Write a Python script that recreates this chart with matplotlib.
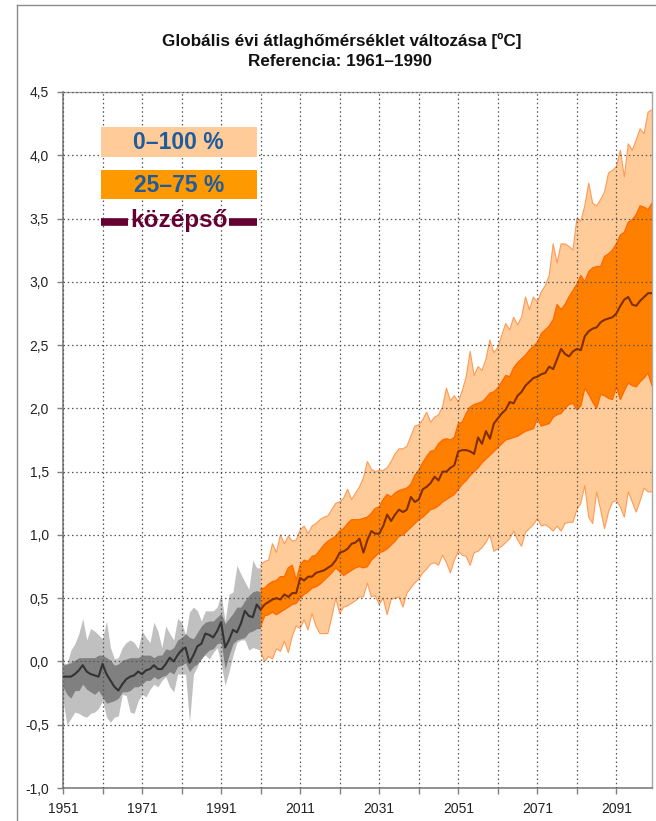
import matplotlib
matplotlib.use("Agg")
import matplotlib.pyplot as plt
from matplotlib.patches import Rectangle
from matplotlib.lines import Line2D
import numpy as np

plt.rcParams['font.family'] = ['Liberation Sans', 'DejaVu Sans']

# ---------------- data ----------------
hist_years = list(range(1951, 2002))
g_max = [-0.01, -0.02, 0.09, 0.14, 0.22, 0.34, 0.17, 0.26, 0.24, 0.21,
         0.18, 0.32, 0.11, 0.02, 0.03, 0.11, 0.15, 0.17, 0.15, 0.10,
         0.24, 0.19, 0.15, 0.31, 0.24, 0.11, 0.28, 0.22, 0.17, 0.34,
         0.31, 0.21, 0.39, 0.43, 0.40, 0.32, 0.40, 0.40, 0.40, 0.43,
         0.53, 0.32, 0.53, 0.55, 0.76, 0.69, 0.63, 0.57, 0.80, 0.74,
         0.74]
g_p75 = [-0.03, -0.02, -0.01, 0.01, 0.03, 0.03, 0.03, 0.03, 0.03, 0.05,
         0.05, 0.03, 0.01, -0.03, -0.02, 0.01, 0.02, 0.03, 0.03, 0.03,
         0.05, 0.05, 0.05, 0.03, 0.05, 0.05, 0.10, 0.09, 0.11, 0.17,
         0.19, 0.22, 0.19, 0.18, 0.23, 0.28, 0.31, 0.32, 0.32, 0.35,
         0.38, 0.30, 0.34, 0.38, 0.43, 0.43, 0.48, 0.52, 0.55, 0.56,
         0.55]
g_med = [-0.12, -0.12, -0.12, -0.10, -0.07, -0.03, -0.08, -0.10, -0.11, -0.12,
         -0.02, -0.10, -0.15, -0.20, -0.23, -0.18, -0.14, -0.12, -0.11, -0.08,
         -0.10, -0.07, -0.06, -0.03, -0.06, -0.06, -0.02, 0.03, 0.00, 0.05,
         0.09, 0.11, -0.01, 0.05, 0.12, 0.14, 0.22, 0.21, 0.19, 0.24,
         0.31, 0.11, 0.17, 0.25, 0.23, 0.30, 0.40, 0.36, 0.35, 0.45,
         0.41]
g_p25 = [-0.20, -0.26, -0.29, -0.23, -0.23, -0.18, -0.22, -0.24, -0.26, -0.23,
         -0.28, -0.33, -0.32, -0.31, -0.29, -0.24, -0.24, -0.23, -0.20, -0.20,
         -0.18, -0.15, -0.15, -0.12, -0.14, -0.12, -0.11, -0.08, -0.10, -0.04,
         -0.03, -0.01, -0.08, -0.04, -0.02, 0.02, 0.06, 0.09, 0.10, 0.14,
         0.15, -0.06, 0.05, 0.14, 0.17, 0.18, 0.19, 0.23, 0.24, 0.26,
         0.26]
g_min = [-0.31, -0.50, -0.45, -0.40, -0.41, -0.43, -0.44, -0.41, -0.40, -0.37,
         -0.31, -0.44, -0.48, -0.44, -0.43, -0.26, -0.27, -0.40, -0.41, -0.31,
         -0.26, -0.28, -0.22, -0.18, -0.20, -0.15, -0.12, -0.20, -0.24, -0.10,
         -0.10, -0.10, -0.48, -0.10, -0.04, 0.05, 0.05, 0.02, 0.07, 0.11,
         -0.02, -0.19, -0.08, 0.05, 0.15, 0.17, 0.17, 0.09, 0.11, 0.10,
         0.09]

proj_years = list(range(2001, 2101))
o_max = [0.76, 0.79, 0.80, 0.93, 0.86, 1.00, 0.93, 0.99, 0.95, 0.96,
         1.04, 1.07, 1.01, 1.07, 1.09, 1.12, 1.14, 1.15, 1.20, 1.25,
         1.26, 1.29, 1.36, 1.28, 1.33, 1.38, 1.45, 1.58, 1.52, 1.50,
         1.51, 1.51, 1.53, 1.58, 1.64, 1.68, 1.68, 1.70, 1.78, 1.86,
         1.87, 1.91, 1.97, 1.89, 1.93, 1.95, 2.01, 2.16, 2.06, 2.10,
         2.05, 2.14, 2.25, 2.45, 2.26, 2.33, 2.30, 2.39, 2.54, 2.44,
         2.48, 2.58, 2.67, 2.62, 2.72, 2.66, 2.72, 2.88, 2.78, 2.88,
         2.84, 2.92, 2.97, 3.05, 3.30, 3.15, 3.30, 3.30, 3.28, 3.25,
         3.50, 3.48, 3.60, 3.78, 3.62, 3.60, 3.65, 3.71, 3.86, 3.88,
         3.91, 4.04, 3.83, 4.09, 4.04, 4.12, 4.21, 4.17, 4.34, 4.36]
o_p75 = [0.57, 0.58, 0.61, 0.63, 0.64, 0.67, 0.67, 0.74, 0.76, 0.64,
         0.76, 0.80, 0.79, 0.83, 0.84, 0.88, 0.92, 0.95, 0.97, 0.99,
         1.03, 1.05, 1.09, 1.12, 1.12, 1.12, 1.13, 1.14, 1.17, 1.21,
         1.22, 1.28, 1.32, 1.30, 1.33, 1.35, 1.36, 1.37, 1.40, 1.47,
         1.51, 1.57, 1.62, 1.66, 1.67, 1.72, 1.75, 1.76, 1.75, 1.77,
         1.88, 1.89, 1.96, 2.01, 2.03, 2.04, 2.05, 2.08, 2.12, 2.13,
         2.16, 2.21, 2.26, 2.25, 2.32, 2.36, 2.39, 2.42, 2.46, 2.49,
         2.52, 2.59, 2.62, 2.65, 2.70, 2.82, 2.78, 2.82, 2.88, 2.93,
         2.98, 3.05, 3.00, 3.08, 3.11, 3.12, 3.12, 3.20, 3.22, 3.25,
         3.30, 3.37, 3.39, 3.47, 3.49, 3.53, 3.60, 3.59, 3.57, 3.62]
o_med = [0.41, 0.45, 0.47, 0.49, 0.50, 0.49, 0.53, 0.51, 0.54, 0.54,
         0.66, 0.64, 0.67, 0.67, 0.70, 0.71, 0.72, 0.74, 0.76, 0.80,
         0.86, 0.87, 0.89, 0.93, 0.94, 0.97, 0.86, 0.96, 1.03, 1.01,
         1.01, 1.07, 1.16, 1.11, 1.16, 1.20, 1.18, 1.20, 1.30, 1.26,
         1.28, 1.36, 1.38, 1.41, 1.46, 1.43, 1.50, 1.50, 1.53, 1.55,
         1.66, 1.67, 1.67, 1.66, 1.64, 1.77, 1.72, 1.82, 1.76, 1.88,
         1.92, 1.96, 1.99, 2.05, 2.04, 2.10, 2.13, 2.18, 2.21, 2.24,
         2.25, 2.27, 2.28, 2.33, 2.31, 2.39, 2.47, 2.43, 2.41, 2.45,
         2.47, 2.46, 2.57, 2.61, 2.63, 2.64, 2.68, 2.70, 2.71, 2.72,
         2.75, 2.81, 2.86, 2.88, 2.82, 2.81, 2.85, 2.88, 2.91, 2.91]
o_p25 = [0.28, 0.36, 0.37, 0.39, 0.37, 0.39, 0.41, 0.43, 0.45, 0.46,
         0.50, 0.53, 0.55, 0.58, 0.59, 0.61, 0.64, 0.67, 0.70, 0.74,
         0.71, 0.68, 0.70, 0.72, 0.74, 0.75, 0.74, 0.75, 0.80, 0.83,
         0.86, 0.87, 0.89, 0.92, 0.95, 0.99, 1.00, 1.03, 1.06, 1.09,
         1.12, 1.14, 1.17, 1.20, 1.21, 1.23, 1.26, 1.28, 1.30, 1.32,
         1.36, 1.40, 1.43, 1.47, 1.50, 1.53, 1.57, 1.60, 1.63, 1.66,
         1.69, 1.72, 1.75, 1.76, 1.77, 1.78, 1.80, 1.82, 1.83, 1.84,
         1.92, 1.86, 1.87, 1.88, 1.93, 1.95, 1.96, 2.00, 2.03, 2.04,
         1.99, 2.02, 2.16, 2.11, 2.05, 2.00, 2.11, 2.10, 2.08, 2.07,
         2.17, 2.07, 2.14, 2.20, 2.18, 2.17, 2.21, 2.24, 2.28, 2.18]
o_min = [0.08, 0.00, 0.04, 0.02, 0.10, 0.08, 0.16, 0.07, 0.20, 0.28,
         0.26, 0.33, 0.25, 0.38, 0.28, 0.22, 0.22, 0.22, 0.35, 0.50,
         0.38, 0.43, 0.44, 0.46, 0.48, 0.51, 0.51, 0.62, 0.51, 0.52,
         0.45, 0.50, 0.37, 0.49, 0.50, 0.51, 0.43, 0.54, 0.58, 0.62,
         0.65, 0.70, 0.73, 0.77, 0.78, 0.76, 0.84, 0.78, 0.70, 0.80,
         0.87, 0.84, 0.83, 0.76, 0.86, 0.87, 0.90, 0.94, 1.00, 0.87,
         0.89, 0.91, 0.94, 0.97, 1.03, 0.96, 0.91, 1.02, 1.05, 1.08,
         1.13, 1.07, 1.08, 1.06, 1.03, 1.07, 1.03, 1.09, 1.10, 1.10,
         1.20, 1.25, 1.39, 1.14, 1.09, 1.34, 1.20, 1.05, 1.18, 1.26,
         1.27, 1.22, 1.14, 1.34, 1.26, 1.18, 1.27, 1.37, 1.34, 1.34]

y_ticks = [-1.0, -0.5, 0.0, 0.5, 1.0, 1.5, 2.0, 2.5, 3.0, 3.5, 4.0, 4.5]
x_ticks = list(range(1951, 2100, 10))
x_labels = ['1951', '', '1971', '', '1991', '', '2011', '', '2031', '',
            '2051', '', '2071', '', '2091']
title1 = "Globális évi átlaghőmérséklet változása [ºC]"
title2 = "Referencia: 1961–1990"
legend_labels = ["0–100 %", "25–75 %", "középső"]

# ---------------- figure ----------------
W, H = 656, 821
fig = plt.figure(figsize=(W / 100, H / 100), dpi=100)
fig.patch.set_facecolor('white')

def fx(px):
    return px / W

def fy(py):
    return 1 - py / H

ax_l, ax_r, ax_t, ax_b = 63, 652, 92, 788
ax = fig.add_axes([fx(ax_l), fy(ax_b), (ax_r - ax_l) / W, (ax_b - ax_t) / H])

# historical (gray)
ax.fill_between(hist_years, g_min, g_max, color='#C0C0C0', lw=0, zorder=1)
ax.fill_between(hist_years, g_p25, g_p75, color='#808080', lw=0, zorder=1.1)
ax.plot(hist_years, g_med, color='#333333', lw=1.5, zorder=3)

# projection (orange)
ax.fill_between(proj_years, o_min, o_max, facecolor='#FFCC99',
                edgecolor='none', zorder=1)
ax.plot(proj_years, o_max, color='#FF9A55', lw=0.8, zorder=1.05)
ax.plot(proj_years, o_min, color='#FF9A55', lw=0.8, zorder=1.05)
ax.fill_between(proj_years, o_p25, o_p75, facecolor='#FF8000',
                edgecolor='none', zorder=1.1)
ax.plot(proj_years, o_p75, color='#FF6A00', lw=1.0, zorder=1.15)
ax.plot(proj_years, o_p25, color='#FF6A00', lw=1.0, zorder=1.15)
ax.plot(proj_years, o_med, color='#7F2E00', lw=1.5, zorder=3)

ax.set_xlim(1951, 2100)
ax.set_ylim(-1.0, 4.5)
ax.set_yticks(y_ticks)
ax.set_yticklabels([f"{v:.1f}".replace('.', ',') for v in y_ticks])
ax.set_xticks(x_ticks)
ax.set_xticklabels(x_labels)

ax.set_axisbelow(False)
ax.grid(True, color='#555555', linestyle=(0, (1.2, 2.2)), lw=0.9, zorder=2.5)

ax.tick_params(axis='both', direction='out', length=4, width=1,
               color='#808080', labelsize=10, labelcolor='#222222', pad=6)
for side in ['left', 'bottom']:
    ax.spines[side].set_color('#808080')
    ax.spines[side].set_linewidth(1.2)
for side in ['top', 'right']:
    ax.spines[side].set_color('#A6A6A6')
    ax.spines[side].set_linewidth(1.0)

# titles
fig.text(fx(342), fy(41), title1, ha='center', va='center',
         fontsize=12.3, fontweight='bold', color='#111111')
fig.text(fx(340), fy(61), title2, ha='center', va='center',
         fontsize=12.3, fontweight='bold', color='#111111')

# legend (drawn as boxes)
bx0, bx1 = 100.7, 256.7
fig.add_artist(Rectangle((fx(bx0), fy(156.7)), (bx1 - bx0) / W, 29.4 / H,
                         transform=fig.transFigure, facecolor='#FFCC99',
                         edgecolor='none', zorder=5))
fig.add_artist(Rectangle((fx(bx0), fy(199.3)), (bx1 - bx0) / W, 29.3 / H,
                         transform=fig.transFigure, facecolor='#FF9900',
                         edgecolor='none', zorder=5))
fig.text(fx(178.7), fy(142.5), legend_labels[0], ha='center', va='center',
         fontsize=16.5, fontweight='bold', color='#1F5C9E', zorder=6)
fig.text(fx(178.7), fy(185), legend_labels[1], ha='center', va='center',
         fontsize=16.5, fontweight='bold', color='#1F5C9E', zorder=6)
for xa, xb in [(100.7, 128.3), (229.3, 256.7)]:
    fig.add_artist(Line2D([fx(xa), fx(xb)], [fy(221.7), fy(221.7)],
                          transform=fig.transFigure, color='#660033',
                          lw=5.5, solid_capstyle='butt', zorder=6))
fig.text(fx(178.7), fy(220), legend_labels[2], ha='center', va='center',
         fontsize=17.5, fontweight='bold', color='#660033', zorder=6)

# outer chart frame (left & top edges visible)
fig.add_artist(Line2D([fx(17), fx(17)], [fy(5), 0], transform=fig.transFigure,
                      color='#8C8C8C', lw=1.0))
fig.add_artist(Line2D([fx(17), 1], [fy(5), fy(5)], transform=fig.transFigure,
                      color='#8C8C8C', lw=1.0))

fig.savefig('out.png', dpi=100, facecolor='white')
